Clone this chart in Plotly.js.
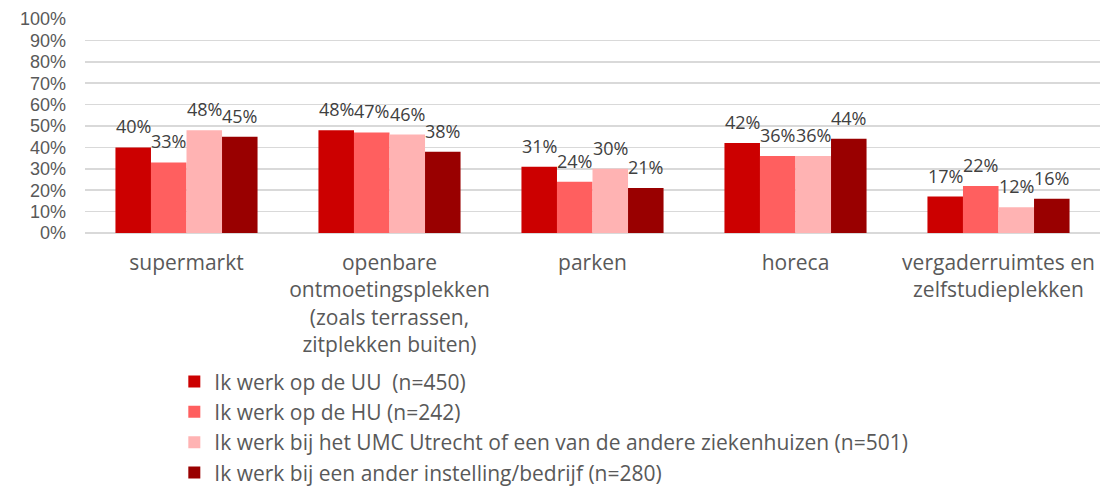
<!DOCTYPE html>
<html>
<head>
<meta charset="utf-8">
<script src="https://cdn.plot.ly/plotly-3.0.1.min.js"></script>
<style>html,body{margin:0;padding:0;background:#fff;}#chart{width:1107px;height:493px;}</style>
</head>
<body>
<div id="chart"></div>
<script>
const categories = [
  "supermarkt",
  "openbare<br>ontmoetingsplekken<br>(zoals terrassen,<br>zitplekken buiten)",
  "parken",
  "horeca",
  "vergaderruimtes en<br>zelfstudieplekken"
];
const seriesNames = [
  "Ik werk op de UU  (n=450)",
  "Ik werk op de HU (n=242)",
  "Ik werk bij het UMC Utrecht of een van de andere ziekenhuizen (n=501)",
  "Ik werk bij een ander instelling/bedrijf (n=280)"
];
const uu = [0.40, 0.48, 0.31, 0.42, 0.17];
const hu = [0.33, 0.47, 0.24, 0.36, 0.22];
const umc = [0.48, 0.46, 0.30, 0.36, 0.12];
const ander = [0.45, 0.38, 0.21, 0.44, 0.16];
const colors = ["#CC0000", "#FF5F5F", "#FFB3B3", "#990000"];

const allValues = [uu, hu, umc, ander];
const font = "Open Sans, Liberation Sans, sans-serif";

const W = 1107, H = 493;
const margin = {l: 85, r: 7, t: 19, b: 260, autoexpand: false};
const bargap = 0.3;
const plotW = W - margin.l - margin.r;
const barW = plotW / categories.length * (1 - bargap) / allValues.length;

const traces = allValues.map((vals, i) => ({
  type: "bar",
  name: seriesNames[i],
  legendgroup: "g" + i,
  x: categories,
  y: vals,
  marker: {color: colors[i]},
  hoverinfo: "x+y"
}));

const annotations = [];
allValues.forEach((vals, i) => {
  vals.forEach((v, j) => {
    annotations.push({
      x: categories[j],
      y: v,
      xref: "x",
      yref: "y",
      text: Math.round(v * 100) + "%",
      showarrow: false,
      xanchor: "center",
      yanchor: "bottom",
      xshift: (i - (allValues.length - 1) / 2) * barW,
      yshift: 7,
      font: {family: font, size: 18, color: "#404040"}
    });
  });
});

const layout = {
  width: W,
  height: H,
  margin: margin,
  paper_bgcolor: "#fff",
  plot_bgcolor: "#fff",
  barmode: "group",
  bargap: bargap,
  bargroupgap: 0,
  font: {family: font, size: 18, color: "#595959"},
  showlegend: true,
  legend: {
    x: 0.088, y: -0.6, xanchor: "left", yanchor: "top",
    orientation: "v",
    font: {family: font, size: 21, color: "#595959"},
    tracegroupgap: 11,
    itemwidth: 30,
    traceorder: "normal"
  },
  annotations: annotations,
  xaxis: {
    type: "category",
    tickfont: {family: font, size: 21, color: "#595959"},
    showgrid: false,
    showline: false,
    ticks: "",
    ticklabelstandoff: 15
  },
  yaxis: {
    range: [0, 1],
    dtick: 0.1,
    tickformat: ".0%",
    gridcolor: "#D9D9D9",
    gridwidth: 1.5,
    zeroline: true,
    zerolinecolor: "#D9D9D9",
    zerolinewidth: 1.5,
    tickfont: {family: "Liberation Sans, Arial, sans-serif", size: 18, color: "#595959"},
    ticks: "",
    ticklabelstandoff: 18,
    automargin: false
  }
};

Plotly.newPlot("chart", traces, layout, {displayModeBar: false, staticPlot: true});
</script>
</body>
</html>
